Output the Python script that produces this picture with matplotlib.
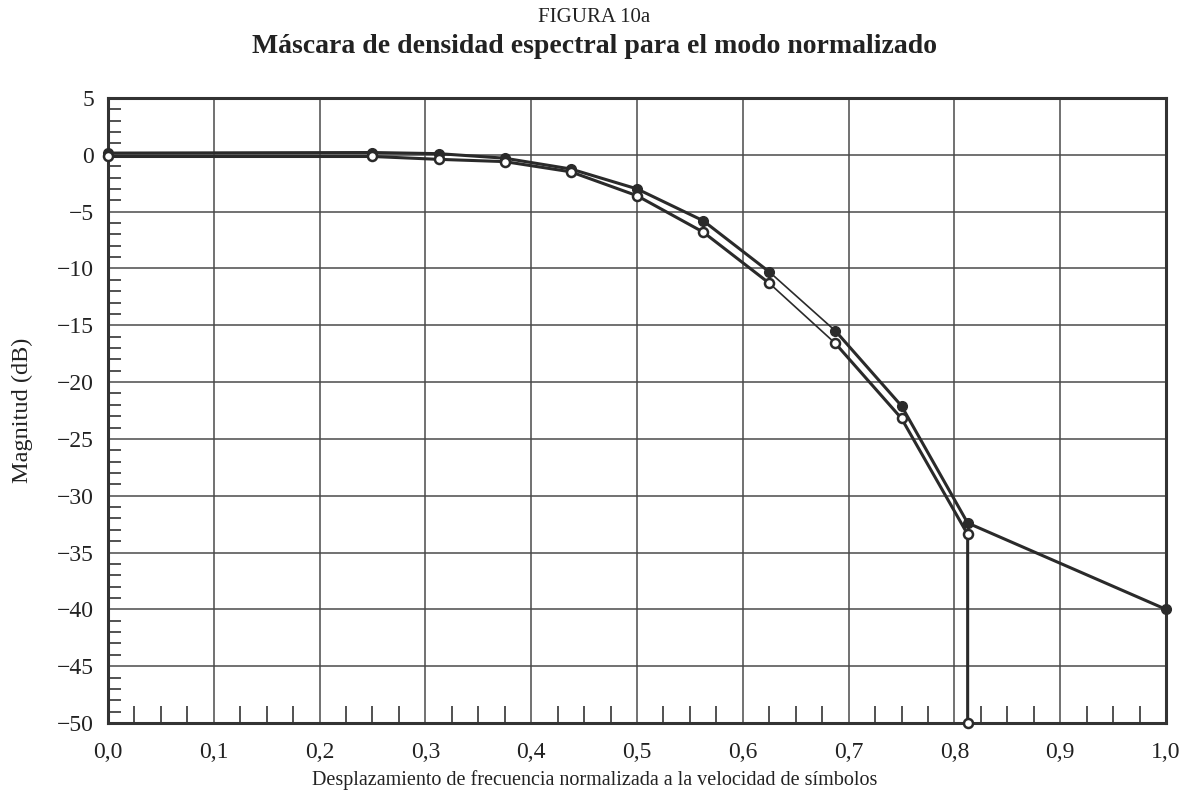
import numpy as np
import matplotlib.pyplot as plt
from matplotlib.ticker import MultipleLocator, FuncFormatter

plt.rcParams['font.family'] = ['Liberation Serif', 'DejaVu Serif']
plt.rcParams['axes.unicode_minus'] = True

# Data
freq = [0.0, 0.25, 0.3125, 0.375, 0.4375, 0.5, 0.5625, 0.625, 0.6875, 0.75, 0.8125, 1.0]
upper_db = [0.15, 0.2, 0.1, -0.3, -1.25, -3.0, -5.8, -10.3, -15.5, -22.1, -32.4, -40.0]

freq_low = [0.0, 0.25, 0.3125, 0.375, 0.4375, 0.5, 0.5625, 0.625, 0.6875, 0.75, 0.8125, 0.8125]
lower_db = [-0.15, -0.15, -0.4, -0.6, -1.5, -3.6, -6.8, -11.3, -16.6, -23.2, -33.4, -50.0]

dark = '#2a2a2a'

fig = plt.figure(figsize=(11.89, 8.09), dpi=100)
ax = fig.add_axes([0.0908, 0.1063, 0.8899, 0.7726])

# Lines (one segment drawn thinner, as in the original)
ax.plot(freq[:8], upper_db[:8], color=dark, lw=2.2, zorder=3)
ax.plot(freq[7:9], upper_db[7:9], color=dark, lw=1.2, zorder=3)
ax.plot(freq[8:], upper_db[8:], color=dark, lw=2.2, zorder=3)
ax.plot(freq_low[:8], lower_db[:8], color=dark, lw=2.2, zorder=3)
ax.plot(freq_low[7:9], lower_db[7:9], color=dark, lw=1.2, zorder=3)
ax.plot(freq_low[8:], lower_db[8:], color=dark, lw=2.2, zorder=3)

ax.plot(freq, upper_db, ls='none', marker='o', ms=7, color=dark, zorder=4, clip_on=False)
ax.plot(freq_low, lower_db, ls='none', marker='o', ms=6.5, mfc='white', mec=dark, mew=1.8,
        zorder=5, clip_on=False)

ax.set_xlim(0, 1.0)
ax.set_ylim(-50, 5)
ax.xaxis.set_major_locator(MultipleLocator(0.1))
ax.xaxis.set_minor_locator(MultipleLocator(0.025))
ax.yaxis.set_major_locator(MultipleLocator(5))
ax.yaxis.set_minor_locator(MultipleLocator(1))
ax.xaxis.set_major_formatter(FuncFormatter(lambda v, p: f'{v:.1f}'.replace('.', ',')))
ax.yaxis.set_major_formatter(FuncFormatter(lambda v, p: f'{v:.0f}'.replace('-', '\u2212')))

ax.grid(which='major', color='#4a4a4a', lw=1.1)
ax.tick_params(which='major', direction='in', length=0, labelsize=17, colors='#222222')
ax.tick_params(axis='x', which='major', pad=14)
ax.tick_params(axis='y', which='major', pad=10)
ax.tick_params(axis='x', which='minor', direction='in', length=12, width=1.2, color='#333333')
ax.tick_params(axis='y', which='minor', direction='in', length=9, width=1.2, color='#333333')

for s in ax.spines.values():
    s.set_linewidth(2.2)
    s.set_color('#333333')

fig.text(0.5, 0.978, 'FIGURA 10a', ha='center', va='center', fontsize=15, color='#222222')
fig.text(0.5, 0.942, 'Máscara de densidad espectral para el modo normalizado', ha='center',
         va='center', fontsize=15.5 * 1.29, fontweight='bold', color='#222222')
fig.text(0.5, 0.036, 'Desplazamiento de frecuencia normalizada a la velocidad de símbolos',
         ha='center', va='center', fontsize=14.5, color='#222222')
fig.text(0.0185, 0.493, 'Magnitud (dB)', rotation=90, ha='center', va='center', fontsize=17.5,
         color='#222222')

fig.savefig('out.png', dpi=100)
